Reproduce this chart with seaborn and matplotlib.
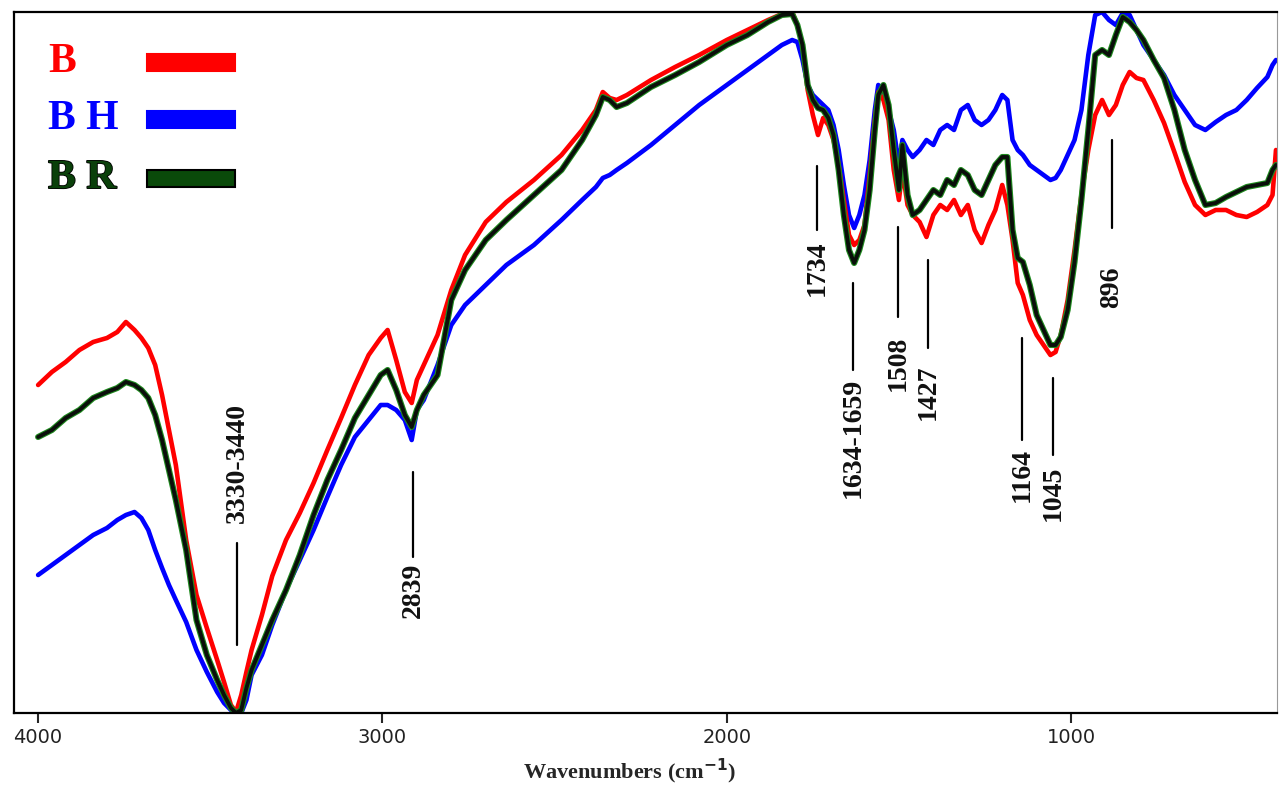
import pandas as pd
import numpy as np
import matplotlib
matplotlib.use('Agg')
import matplotlib.pyplot as plt
import matplotlib.patheffects as pe
from matplotlib.patches import Rectangle
import seaborn as sns

# wavenumber grid (cm-1) shared by the three spectra
wavenumber = [4000, 3960, 3920, 3880, 3840, 3800, 3770, 3745, 3720, 3700,
              3680, 3660, 3640, 3620, 3600, 3570, 3540, 3510, 3480, 3460,
              3440, 3425, 3410, 3395, 3380, 3350, 3320, 3280, 3240, 3200,
              3160, 3120, 3080, 3040, 3005, 2985, 2960, 2935, 2915, 2900,
              2880, 2840, 2800, 2760, 2700, 2640, 2560, 2480, 2420, 2380,
              2360, 2340, 2320, 2290, 2220, 2150, 2080, 2000, 1940, 1880,
              1840, 1810, 1795, 1780, 1765, 1750, 1735, 1720, 1705, 1690,
              1675, 1660, 1645, 1630, 1615, 1600, 1585, 1570, 1560, 1545,
              1530, 1515, 1500, 1490, 1475, 1460, 1440, 1420, 1400, 1380,
              1360, 1340, 1320, 1300, 1280, 1260, 1240, 1220, 1200, 1185,
              1170, 1155, 1140, 1120, 1100, 1080, 1060, 1045, 1030, 1010,
              990, 970, 950, 930, 910, 890, 870, 850, 830, 810,
              790, 760, 730, 700, 670, 640, 610, 580, 550, 520,
              490, 460, 430, 415, 405]

# transmittance (arbitrary units)
b_vals = [328, 341, 351, 363, 371, 375, 381, 391, 383, 375,
          365, 348, 318, 283, 248, 173, 118, 85, 53, 31,
          8, 1, 18, 41, 63, 98, 137, 173, 200, 230,
          263, 295, 328, 358, 375, 383, 353, 321, 310, 333,
          348, 378, 423, 458, 491, 511, 533, 558, 583, 603,
          621, 615, 613, 618, 633, 646, 658, 673, 683, 693,
          699, 701, 688, 668, 623, 598, 578, 595, 588, 573,
          548, 513, 478, 468, 473, 488, 538, 593, 621, 613,
          593, 543, 513, 543, 508, 498, 491, 476, 498, 508,
          503, 513, 498, 508, 483, 470, 488, 503, 528, 508,
          473, 430, 418, 393, 378, 368, 358, 361, 378, 413,
          463, 518, 563, 598, 613, 598, 608, 628, 641, 635,
          633, 613, 590, 561, 531, 508, 498, 503, 503, 498,
          496, 501, 508, 518, 563]

bh_vals = [138, 148, 158, 168, 178, 185, 193, 198, 201, 195,
           183, 163, 145, 128, 113, 91, 63, 41, 21, 10,
           3, 0, 0, 13, 38, 58, 88, 123, 153, 183,
           216, 248, 276, 293, 308, 308, 303, 293, 273, 303,
           313, 348, 388, 408, 428, 448, 468, 493, 513, 526,
           535, 538, 543, 550, 568, 588, 608, 628, 643, 658,
           668, 673, 671, 653, 628, 618, 613, 608, 603, 588,
           563, 528, 498, 485, 498, 518, 553, 603, 628, 623,
           603, 583, 548, 573, 563, 556, 563, 573, 568, 583,
           588, 583, 603, 608, 593, 588, 593, 603, 618, 613,
           573, 563, 558, 548, 543, 538, 533, 535, 543, 558,
           573, 603, 658, 698, 701, 693, 688, 700, 698, 683,
           668, 653, 638, 618, 603, 588, 583, 591, 598, 603,
           613, 625, 636, 648, 653]

br_vals = [276, 283, 295, 303, 315, 321, 325, 331, 328, 323,
           315, 298, 273, 243, 213, 163, 93, 58, 33, 18,
           5, 0, 3, 25, 43, 68, 93, 123, 158, 198,
           233, 263, 295, 318, 338, 343, 323, 298, 286, 303,
           318, 338, 413, 443, 473, 493, 518, 543, 573, 598,
           616, 613, 606, 610, 626, 638, 651, 668, 678, 691,
           698, 699, 688, 668, 628, 613, 605, 603, 595, 578,
           543, 498, 463, 450, 463, 483, 523, 583, 618, 628,
           608, 563, 523, 568, 518, 498, 503, 513, 523, 518,
           533, 528, 543, 538, 523, 518, 533, 548, 556, 556,
           483, 455, 451, 428, 398, 383, 368, 368, 376, 403,
           451, 513, 583, 658, 663, 658, 678, 696, 691, 683,
           673, 653, 635, 603, 563, 533, 508, 510, 516, 521,
           526, 528, 530, 543, 548]

samples = ['B', 'BH', 'BR']
legend_labels = ['B', 'B H', 'B R']
colors = {'B': '#ff0000', 'BH': '#0000ff', 'BR': '#0a0f0a'}

# peak annotations: label, wavenumber of the marker, line bottom/top, text anchor
peak_labels = ['3330-3440', '2839', '1734', '1634-1659', '1508', '1427', '1164', '1045', '896']
peak_pos = [3422, 2911, 1737, 1633, 1502, 1415, 1142, 1052, 881]
line_lo = [68, 156, 483, 343, 396, 365, 273, 258, 485]
line_hi = [170, 241, 547, 430, 486, 453, 375, 335, 573]
text_y = [190, 150, 472, 335, 377, 348, 265, 247, 447]
text_above = [True, False, False, False, False, False, False, False, False]

df = pd.DataFrame({
    'wavenumber': wavenumber * 3,
    'T': b_vals + bh_vals + br_vals,
    'sample': ['B'] * len(wavenumber) + ['BH'] * len(wavenumber) + ['BR'] * len(wavenumber),
})

sns.set_theme(style='white')
plt.rcParams['font.family'] = ['DejaVu Sans']

fig = plt.figure(figsize=(12.79, 7.89), dpi=100)
ax = fig.add_axes([14 / 1279, 76 / 789, 1263 / 1279, 701 / 789])

for s in ['BH', 'B', 'BR']:
    sns.lineplot(data=df[df['sample'] == s], x='wavenumber', y='T', color=colors[s],
                 sort=False, estimator=None, linewidth=2.8 if s == 'BR' else 3.3, ax=ax)
ax.lines[-1].set_path_effects([pe.Stroke(linewidth=4.4, foreground='#1f8a1f'), pe.Normal()])

ax.set_xlim(4070, 402)
ax.set_ylim(0, 701)
ax.set_xticks([4000, 3000, 2000, 1000])
ax.set_yticks([])
ax.tick_params(axis='x', bottom=True, direction='out', length=7, width=1.5,
               labelsize=14, labelcolor='#222222', pad=4)
for sp in ax.spines.values():
    sp.set_color('black')
    sp.set_linewidth(1.6)
ax.spines['right'].set_linewidth(0.8)
ax.spines['right'].set_color('#999999')
ax.set_ylabel('')
ax.set_xlabel(r'Wavenumbers (cm$^{\mathbf{-1}}$)', fontsize=16, fontweight='bold',
              family='Liberation Serif')
ax.xaxis.set_label_coords(0.487, -0.062)

for lab, x, lo, hi, ty, above in zip(peak_labels, peak_pos, line_lo, line_hi, text_y, text_above):
    ax.plot([x, x], [lo, hi], color='black', linewidth=1.6)
    ax.text(x, ty, lab, rotation=90, ha='center', va='bottom' if above else 'top',
            fontsize=20, fontweight='bold', family='Liberation Serif', color='#111111')

# legend drawn as coloured labels with bars
leg_y = [0.928, 0.847, 0.763]
leg_text_colors = ['#ff0000', '#0000ff', '#0a400a']
for lab, yy, tc, s in zip(legend_labels, leg_y, leg_text_colors, samples):
    t = ax.text(0.027, yy, lab, transform=ax.transAxes, ha='left', va='center',
                fontsize=30, fontweight='bold', family='Liberation Serif', color=tc)
    if s == 'BR':
        t.set_path_effects([pe.Stroke(linewidth=1.2, foreground='black'), pe.Normal()])
    bar_color = '#0a4a0a' if s == 'BR' else colors[s]
    ax.add_patch(Rectangle((0.105, yy - 0.012), 0.07, 0.024, transform=ax.transAxes,
                           facecolor=bar_color, edgecolor='black' if s == 'BR' else bar_color,
                           linewidth=1.5))

fig.savefig('out.png', dpi=100)
